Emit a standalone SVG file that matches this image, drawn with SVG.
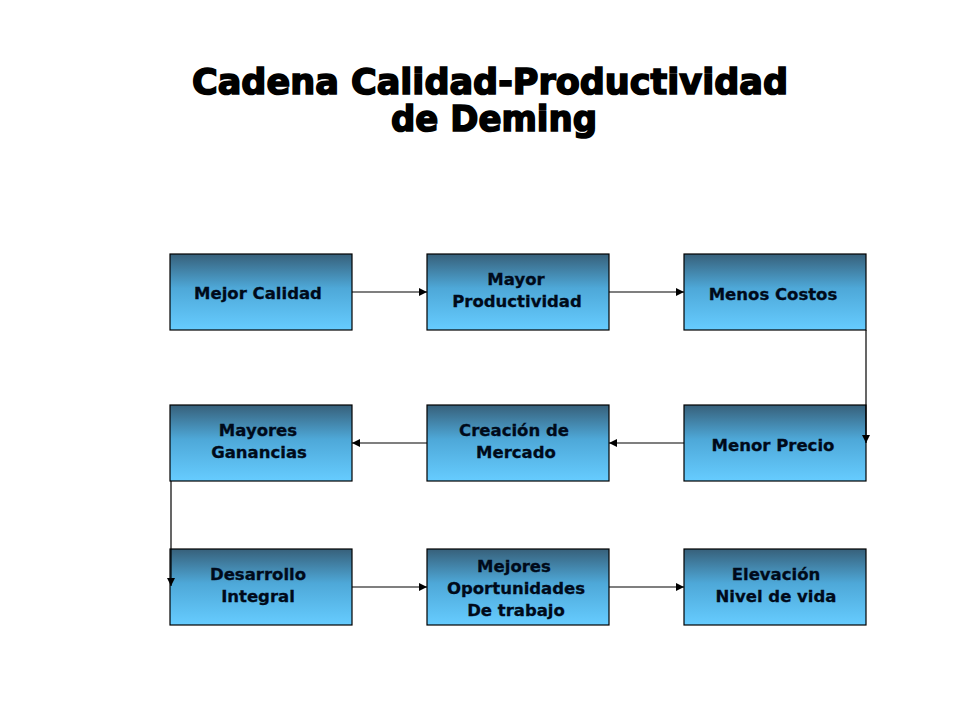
<svg xmlns="http://www.w3.org/2000/svg" width="960" height="720" viewBox="0 0 960 720">
<defs>
<linearGradient id="g" x1="0" y1="0" x2="0" y2="1">
<stop offset="0" stop-color="#37607a"/>
<stop offset="0.45" stop-color="#4ea8d8"/>
<stop offset="1" stop-color="#66ccff"/>
</linearGradient>
<marker id="ah" viewBox="0 0 10 10" refX="10" refY="5" markerWidth="8" markerHeight="8" markerUnits="userSpaceOnUse" orient="auto">
<path d="M0,0 L10,5 L0,10 z" fill="#000"/>
</marker>
<style>
.box{fill:url(#g);stroke:#000;stroke-width:1.2}
.t{font-family:"DejaVu Sans",Verdana,sans-serif;font-weight:bold;font-size:16.5px;fill:#000a1a;text-anchor:middle;stroke:#000a1a;stroke-width:0.3}
.c{fill:none;stroke:#000;stroke-width:1.2;marker-end:url(#ah)}
.title{font-family:"DejaVu Sans",sans-serif;font-weight:900;font-size:35px;fill:#000;stroke:#000;stroke-width:1.6;text-anchor:middle}
</style>
</defs>
<rect width="960" height="720" fill="#fff"/>
<g id="title">
<text class="title" x="490" y="94" textLength="596" lengthAdjust="spacingAndGlyphs">Cadena Calidad-Productividad</text>
<text class="title" x="494" y="131" textLength="206" lengthAdjust="spacingAndGlyphs">de Deming</text>
</g>
<g id="n1"><rect class="box" x="170" y="254" width="182" height="76"/><text class="t" x="258" y="299">Mejor Calidad</text></g>
<g id="n2"><rect class="box" x="427" y="254" width="182" height="76"/><text class="t" x="516" y="285">Mayor</text><text class="t" x="517" y="307">Productividad</text></g>
<g id="n3"><rect class="box" x="684" y="254" width="182" height="76"/><text class="t" x="773" y="300">Menos Costos</text></g>
<g id="n4"><rect class="box" x="170" y="405" width="182" height="76"/><text class="t" x="258" y="436">Mayores</text><text class="t" x="259" y="458">Ganancias</text></g>
<g id="n5"><rect class="box" x="427" y="405" width="182" height="76"/><text class="t" x="514" y="436">Creación de</text><text class="t" x="516" y="458">Mercado</text></g>
<g id="n6"><rect class="box" x="684" y="405" width="182" height="76"/><text class="t" x="773" y="451">Menor Precio</text></g>
<g id="n7"><rect class="box" x="170" y="549" width="182" height="76"/><text class="t" x="258" y="580">Desarrollo</text><text class="t" x="258" y="602">Integral</text></g>
<g id="n8"><rect class="box" x="427" y="549" width="182" height="76"/><text class="t" x="514" y="572">Mejores</text><text class="t" x="516" y="594">Oportunidades</text><text class="t" x="516" y="616">De trabajo</text></g>
<g id="n9"><rect class="box" x="684" y="549" width="182" height="76"/><text class="t" x="776" y="580">Elevación</text><text class="t" x="776" y="602">Nivel de vida</text></g>
<g id="connectors">
<path class="c" d="M352,292 H427"/>
<path class="c" d="M609,292 H684"/>
<path class="c" d="M866,330 V443"/>
<path class="c" d="M684,443 H609"/>
<path class="c" d="M427,443 H352"/>
<path class="c" d="M171,481 V586"/>
<path class="c" d="M352,587 H427"/>
<path class="c" d="M609,587 H684"/>
</g>
</svg>
